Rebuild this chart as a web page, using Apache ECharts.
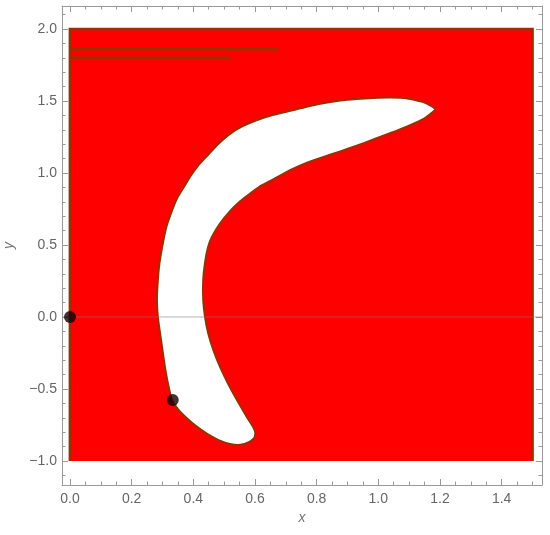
<!DOCTYPE html>
<html>
<head>
<meta charset="utf-8">
<script src="https://cdn.jsdelivr.net/npm/echarts@6/dist/echarts.min.js"></script>
<style>
  html, body { margin: 0; padding: 0; background: #fff; }
  #main { width: 550px; height: 535px; }
</style>
</head>
<body>
<div id="main"></div>
<script>
// region bounds (the red square)
var regionX = [0, 1.5];
var regionY = [-1, 2];

// white crescent outline (outer edge then inner edge)
var crescentX = [1.185, 1.150, 1.094, 1.040, 0.984, 0.930, 0.877, 0.800, 0.714, 0.660, 0.607, 0.560, 0.519, 0.480, 0.445, 0.415, 0.390, 0.370, 0.350, 0.331, 0.312, 0.299, 0.290, 0.285, 0.282, 0.285, 0.292, 0.300, 0.308, 0.318, 0.331, 0.352, 0.380, 0.410, 0.445, 0.482, 0.519, 0.552, 0.580, 0.598, 0.601,
                 0.594, 0.575, 0.542, 0.512, 0.487, 0.465, 0.448, 0.438, 0.432, 0.432, 0.438, 0.448, 0.461, 0.487, 0.519, 0.550, 0.580, 0.615, 0.659, 0.714, 0.769, 0.820, 0.877, 0.930, 0.984, 1.040, 1.094, 1.150];
var crescentY = [1.443, 1.490, 1.518, 1.524, 1.521, 1.514, 1.503, 1.476, 1.432, 1.404, 1.368, 1.325, 1.272, 1.200, 1.120, 1.050, 0.976, 0.905, 0.836, 0.740, 0.620, 0.488, 0.370, 0.258, 0.120, 0.000, -0.111, -0.230, -0.348, -0.465, -0.578, -0.645, -0.705, -0.760, -0.812, -0.855, -0.882, -0.888, -0.870, -0.840, -0.805,
                 -0.765, -0.700, -0.578, -0.460, -0.348, -0.230, -0.111, 0.000, 0.118, 0.258, 0.380, 0.488, 0.560, 0.650, 0.735, 0.800, 0.850, 0.905, 0.955, 1.020, 1.072, 1.110, 1.150, 1.190, 1.233, 1.278, 1.324, 1.380];

// marked points
var pointsX = [0, 0.3333];
var pointsY = [0, -0.5774];

// stray dark mesh lines near the top
var strayY = [1.86, 1.80];
var strayEnd = [0.675, 0.52];

var xMajor = [0, 0.2, 0.4, 0.6, 0.8, 1.0, 1.2, 1.4];
var xMinor = [0.05, 0.1, 0.15, 0.25, 0.3, 0.35, 0.45, 0.5, 0.55, 0.65, 0.7, 0.75, 0.85, 0.9, 0.95, 1.05, 1.1, 1.15, 1.25, 1.3, 1.35, 1.45, 1.5];
var yMajor = [-1.0, -0.5, 0, 0.5, 1.0, 1.5, 2.0];
var yMinor = [-1.1, -0.9, -0.8, -0.7, -0.6, -0.4, -0.3, -0.2, -0.1, 0.1, 0.2, 0.3, 0.4, 0.6, 0.7, 0.8, 0.9, 1.1, 1.2, 1.3, 1.4, 1.6, 1.7, 1.8, 1.9, 2.1];

var xMin = -0.026, xMax = 1.531;
var yMin = -1.167, yMax = 2.16;

var frameColor = '#999999';
var labelColor = '#666666';
var edgeColor = '#9a3000';

function fmt(v) {
  var s = Math.abs(v).toFixed(1);
  return v < 0 ? '\u2212' + s : s;
}

function axisX(pos, ticks, major, labels) {
  return {
    type: 'value', position: pos, min: xMin, max: xMax,
    axisLine: { show: major, onZero: false, lineStyle: { color: frameColor, width: 1 } },
    axisTick: { show: true, inside: true, length: major ? 6 : 3.5, customValues: ticks,
      lineStyle: { color: frameColor } },
    axisLabel: labels ? { show: true, customValues: ticks, formatter: fmt, color: labelColor,
      fontFamily: 'Liberation Sans', fontSize: 14, margin: 7 } : { show: false },
    splitLine: { show: false },
    name: labels ? 'x' : '', nameLocation: 'middle', nameGap: 23,
    nameTextStyle: { color: '#777', fontStyle: 'italic', fontFamily: 'Liberation Sans', fontSize: 14 }
  };
}

function axisY(pos, ticks, major, labels) {
  return {
    type: 'value', position: pos, min: yMin, max: yMax,
    axisLine: { show: major, onZero: false, lineStyle: { color: frameColor, width: 1 } },
    axisTick: { show: true, inside: true, length: major ? 6 : 3.5, customValues: ticks,
      lineStyle: { color: frameColor } },
    axisLabel: labels ? { show: true, customValues: ticks, formatter: fmt, color: labelColor,
      fontFamily: 'Liberation Sans', fontSize: 14, margin: 5 } : { show: false },
    splitLine: { show: false },
    name: labels ? 'y' : '', nameLocation: 'middle', nameGap: 46,
    nameTextStyle: { color: '#777', fontStyle: 'italic', fontFamily: 'Liberation Sans', fontSize: 14 }
  };
}

var crescentData = crescentX.map(function (x, i) { return [x, crescentY[i]]; });

var myChart = echarts.init(document.getElementById('main'));
var option = {
  animation: false,
  grid: { left: 62, right: 8, top: 6, bottom: 50, containLabel: false, outerBoundsMode: 'none' },
  xAxis: [
    axisX('bottom', xMajor, true, true),
    axisX('bottom', xMinor, false, false),
    axisX('top', xMajor, true, false),
    axisX('top', xMinor, false, false)
  ],
  yAxis: [
    axisY('left', yMajor, true, true),
    axisY('left', yMinor, false, false),
    axisY('right', yMajor, true, false),
    axisY('right', yMinor, false, false)
  ],
  series: [
    {
      // red square with dark left/top/right edges
      type: 'custom', silent: true, z: 1,
      data: [[regionX[0], regionY[0], regionX[1], regionY[1]]],
      renderItem: function (params, api) {
        var p0 = api.coord([api.value(0), api.value(1)]);
        var p1 = api.coord([api.value(2), api.value(3)]);
        var tl = api.coord([api.value(0), api.value(3)]);
        var br = api.coord([api.value(2), api.value(1)]);
        return {
          type: 'group',
          children: [
            { type: 'rect', shape: { x: p0[0], y: p1[1], width: p1[0] - p0[0], height: p0[1] - p1[1] },
              style: { fill: '#ff0000' } },
            { type: 'polyline', shape: { points: [p0, tl, p1, br] },
              style: { stroke: edgeColor, lineWidth: 2.8, fill: null } }
          ]
        };
      }
    },
    {
      // white crescent
      type: 'custom', silent: true, z: 2,
      data: crescentData,
      renderItem: function (params, api) {
        if (params.dataIndex !== 0) return null;
        var pts = crescentData.map(function (p) { return api.coord(p); });
        return {
          type: 'polygon',
          shape: { points: pts, smooth: 0.15 },
          style: { fill: '#ffffff', stroke: edgeColor, lineWidth: 2 }
        };
      }
    },
    {
      type: 'line', silent: true, z: 3,
      data: [[0, strayY[0]], [strayEnd[0], strayY[0]]],
      symbol: 'none', lineStyle: { color: edgeColor, width: 2.6 }
    },
    {
      type: 'line', silent: true, z: 3,
      data: [[0, strayY[1]], [strayEnd[1], strayY[1]]],
      symbol: 'none', lineStyle: { color: edgeColor, width: 2.6 }
    },
    {
      // horizontal axis line at y = 0
      type: 'line', silent: true, z: 4,
      data: [[xMin, 0], [xMax, 0]],
      symbol: 'none', lineStyle: { color: 'rgba(120,120,120,0.55)', width: 1 }
    },
    {
      type: 'scatter', silent: true, z: 5,
      data: pointsX.map(function (x, i) { return [x, pointsY[i]]; }),
      symbol: 'circle', symbolSize: 12,
      itemStyle: { color: '#140000' }
    }
  ]
};
myChart.setOption(option);
window.onresize = function () { myChart.resize(); };
</script>
</body>
</html>
